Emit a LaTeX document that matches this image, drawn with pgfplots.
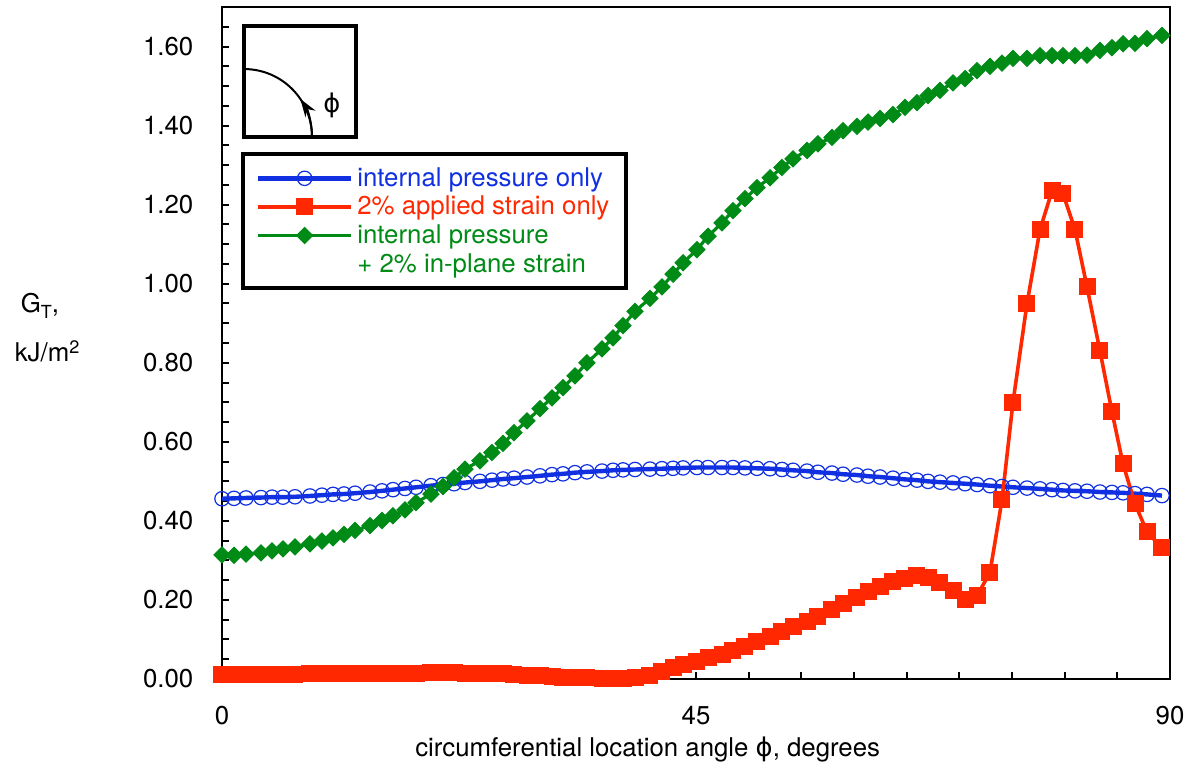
\documentclass[border=0pt]{standalone}
\usepackage{fontspec}
\setmainfont{TeX Gyre Heros}
\newfontfamily\symf{DejaVu Sans}
\usepackage{pgfplots}
\pgfplotsset{compat=1.18}
\usepackage{pgfplotstable}
\usetikzlibrary{arrows.meta}
\definecolor{cblue}{RGB}{16,48,225}
\definecolor{cred}{RGB}{255,40,0}
\definecolor{cgreen}{RGB}{0,138,22}

\pgfplotstableread{
x blue red green
0.00 0.456 0.012 0.314
1.14 0.457 0.012 0.313
2.28 0.458 0.012 0.316
3.70 0.459 0.012 0.319
4.75 0.460 0.012 0.324
5.79 0.460 0.012 0.329
6.93 0.461 0.012 0.334
8.35 0.463 0.013 0.342
9.49 0.465 0.013 0.349
10.54 0.467 0.013 0.357
11.58 0.468 0.013 0.366
12.63 0.470 0.013 0.376
14.05 0.473 0.014 0.388
15.19 0.476 0.014 0.401
16.23 0.479 0.015 0.413
17.37 0.482 0.015 0.428
18.42 0.485 0.015 0.446
19.84 0.489 0.016 0.468
20.98 0.492 0.016 0.487
22.03 0.494 0.016 0.509
23.07 0.497 0.015 0.531
24.49 0.500 0.015 0.552
25.63 0.503 0.014 0.573
26.68 0.506 0.013 0.596
27.72 0.508 0.012 0.623
28.96 0.511 0.010 0.653
30.19 0.514 0.008 0.684
31.33 0.517 0.006 0.711
32.37 0.519 0.005 0.737
33.51 0.522 0.004 0.767
34.65 0.524 0.003 0.800
36.08 0.526 0.002 0.835
37.12 0.528 0.002 0.863
38.07 0.529 0.002 0.894
39.21 0.530 0.004 0.930
40.63 0.531 0.010 0.963
41.77 0.532 0.020 0.992
42.82 0.533 0.029 1.024
43.77 0.534 0.036 1.053
45.09 0.535 0.045 1.086
46.14 0.535 0.054 1.120
47.47 0.535 0.063 1.154
48.51 0.535 0.073 1.185
49.65 0.534 0.083 1.215
50.79 0.533 0.095 1.243
52.03 0.532 0.108 1.268
53.16 0.530 0.120 1.294
54.21 0.528 0.132 1.316
55.54 0.526 0.146 1.337
56.58 0.523 0.159 1.354
57.91 0.521 0.175 1.370
58.96 0.518 0.190 1.387
60.28 0.516 0.207 1.398
61.33 0.513 0.222 1.409
62.47 0.511 0.235 1.418
63.70 0.508 0.246 1.428
64.84 0.505 0.255 1.446
65.98 0.503 0.262 1.458
67.03 0.500 0.258 1.476
68.16 0.498 0.245 1.489
69.40 0.496 0.224 1.508
70.54 0.494 0.202 1.519
71.68 0.492 0.210 1.539
72.91 0.489 0.270 1.550
74.05 0.487 0.453 1.558
75.09 0.485 0.699 1.570
76.42 0.483 0.949 1.570
77.66 0.481 1.137 1.577
78.80 0.479 1.235 1.577
79.84 0.477 1.228 1.577
80.98 0.476 1.137 1.577
82.12 0.475 0.992 1.578
83.35 0.473 0.830 1.590
84.49 0.472 0.676 1.597
85.54 0.471 0.544 1.607
86.68 0.469 0.443 1.608
87.82 0.467 0.372 1.620
89.24 0.464 0.332 1.628
}\data

\begin{document}
\begin{tikzpicture}[font=\fontsize{12.9}{15.5}\selectfont]
\begin{axis}[
  scale only axis, width=474pt, height=336pt,
  xmin=0, xmax=90, ymin=0, ymax=1.70,
  clip=false,
  axis line style={line width=1pt},
  tick align=inside, xtick pos=bottom, ytick pos=left,
  major tick length=3.5pt, minor tick length=3.5pt,
  tick style={line width=1pt, black},
  xtick={0,45,90}, xticklabels={0,45,90},
  minor xtick={5,10,15,20,25,30,35,40,50,55,60,65,70,75,80,85},
  ytick={0,0.2,0.4,0.6,0.8,1.0,1.2,1.4,1.6},
  yticklabels={0.00,0.20,0.40,0.60,0.80,1.00,1.20,1.40,1.60},
  minor ytick={0.05,0.1,0.15,0.25,0.3,0.35,0.45,0.5,0.55,0.65,0.7,0.75,0.85,0.9,0.95,1.05,1.1,1.15,1.25,1.3,1.35,1.45,1.5,1.55,1.65},
  yticklabel style={xshift=-10.8pt},
  xticklabel style={yshift=-10.3pt},
  legend cell align=left,
  legend style={at={(axis description cs:0.020,0.7842)}, anchor=north west,
    draw=black, line width=2pt, inner xsep=6.5pt, inner ysep=5pt,
    nodes={inner xsep=2pt, inner ysep=1.7pt, text depth=0.15em}},
  legend image code/.code={\draw[mark repeat=2,mark phase=2,#1] plot coordinates {(0pt,0pt) (23.25pt,0pt) (46.5pt,0pt)};},
]
\addplot[cblue, line width=2.2pt, mark=o, mark size=3.6pt, mark options={solid, line width=0.6pt, fill=none}] table[x=x,y=blue] {\data};
\addlegendentry{\textcolor{cblue}{internal pressure only}}
\addplot[cred, line width=1.8pt, mark=square*, mark size=4pt, mark options={solid, line width=0.5pt, fill=cred, draw=cred}] table[x=x,y=red] {\data};
\addlegendentry{\textcolor{cred}{2\% applied strain only}}
\addplot[cgreen, line width=1.6pt, mark=square*, mark size=2.85pt, mark options={solid, rotate=45, line width=0.5pt, fill=cgreen, draw=cgreen}] table[x=x,y=green] {\data};
\addlegendentry{\textcolor{cgreen}{internal pressure}}
\addlegendimage{empty legend}
\addlegendentry{\textcolor{cgreen}{+ 2\% in-plane strain}}

% inset
\draw[line width=2pt] (axis cs:2.09,1.371) rectangle (axis cs:12.72,1.652);
\draw[line width=1pt] ([xshift=34pt]axis cs:2.09,1.371) arc[start angle=0, end angle=90, radius=34pt];
\draw[line width=1pt, -{Stealth[length=9pt,width=6pt]}] ([xshift=34pt]axis cs:2.09,1.371) arc[start angle=0, end angle=34, radius=34pt];
\node at (axis cs:10.44,1.452) {\symf ϕ};

% labels
\node[anchor=base] at (axis description cs:-0.192,0.546) {G\raisebox{-0.45ex}{\fontsize{9}{10}\selectfont T},};
\node[anchor=base] at (axis description cs:-0.184,0.472) {kJ/m\textsuperscript{2}};
\node[anchor=base] at (axis description cs:0.449,-0.1146) {circumferential location angle {\symf ϕ}, degrees};

\coordinate (SW) at (rel axis cs:0,0);
\coordinate (NE) at (rel axis cs:1,1);
\end{axis}
\pgfresetboundingbox
\useasboundingbox ([shift={(-111pt,-43pt)}]SW) rectangle ([shift={(13pt,3.5pt)}]NE);
\end{tikzpicture}
\end{document}
